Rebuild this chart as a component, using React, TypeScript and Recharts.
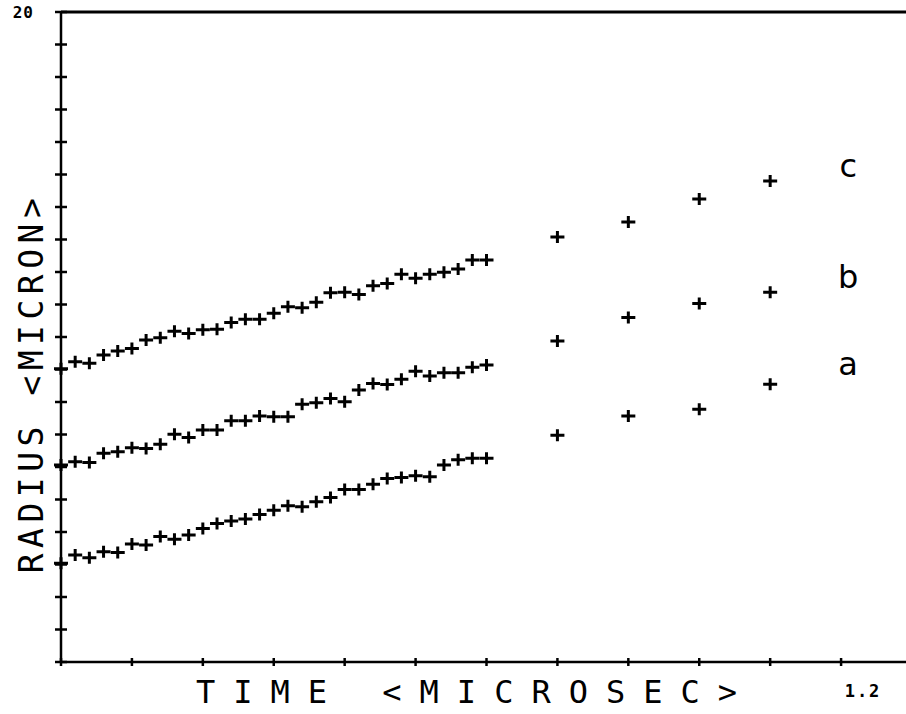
import React from 'react';
import { ComposedChart, Scatter, XAxis, YAxis } from 'recharts';

// time (microsec)
const timeValues = [
  0, 0.02, 0.04, 0.06, 0.08, 0.1, 0.12, 0.14, 0.16, 0.18, 0.2, 0.22, 0.24, 0.26, 0.28, 0.3,
  0.32, 0.34, 0.36, 0.38, 0.4, 0.42, 0.44, 0.46, 0.48, 0.5, 0.52, 0.54, 0.56, 0.58, 0.6,
  0.7, 0.8, 0.9, 1.0,
];

// radius (micron)
const radiusA = [
  3.04, 3.29, 3.21, 3.39, 3.37, 3.63, 3.6, 3.86, 3.78, 3.91, 4.11, 4.26, 4.34, 4.4, 4.54, 4.67,
  4.81, 4.78, 4.93, 5.06, 5.31, 5.31, 5.47, 5.65, 5.68, 5.73, 5.7, 6.06, 6.22, 6.27, 6.27,
  6.98, 7.57, 7.78, 8.55,
];
const radiusB = [
  6.06, 6.16, 6.14, 6.42, 6.47, 6.59, 6.57, 6.7, 7.01, 6.91, 7.14, 7.14, 7.42, 7.42, 7.57, 7.55,
  7.55, 7.93, 7.98, 8.11, 8.01, 8.37, 8.57, 8.54, 8.7, 8.95, 8.8, 8.9, 8.9, 9.07, 9.14,
  9.88, 10.6, 11.03, 11.38,
];
const radiusC = [
  9.02, 9.24, 9.19, 9.45, 9.57, 9.65, 9.91, 9.98, 10.18, 10.11, 10.22, 10.24, 10.45, 10.55, 10.55, 10.73,
  10.93, 10.9, 11.07, 11.36, 11.38, 11.31, 11.58, 11.65, 11.93, 11.81, 11.93, 11.99, 12.09, 12.37, 12.37,
  13.08, 13.54, 14.25, 14.8,
];

// curve labels
const curveNames = ['a', 'b', 'c'];
const curveLabelTime = [1.11, 1.11, 1.11];
const curveLabelRadius = [9.1, 11.8, 15.2];

// ticks
const xTicks = [0, 0.1, 0.2, 0.3, 0.4, 0.5, 0.6, 0.7, 0.8, 0.9, 1.0, 1.1, 1.2];
const yTicks = [0, 1, 2, 3, 4, 5, 6, 7, 8, 9, 10, 11, 12, 13, 14, 15, 16, 17, 18, 19, 20];
const xTickLabels: Record<string, string> = { '1.2': '1.2' };
const yTickLabels: Record<string, string> = { '20': '20' };

const xTitle = 'TIME <MICROSEC>';
const yTitle = 'RADIUS <MICRON>';

const toSeries = (rs: number[]) => timeValues.map((t, i) => ({ t, r: rs[i] }));
const dataA = toSeries(radiusA);
const dataB = toSeries(radiusB);
const dataC = toSeries(radiusC);
const labelData = curveNames.map((n, i) => ({ t: curveLabelTime[i], r: curveLabelRadius[i], name: n }));

const INK = '#000';
const MONO = '"DejaVu Sans Mono", "Liberation Mono", monospace';

const Cross = (props: any) => {
  const { cx, cy } = props;
  if (cx == null || cy == null) return null;
  return (
    <path
      d={`M${cx - 7},${cy}H${cx + 7}M${cx},${cy - 6}V${cy + 6}`}
      stroke={INK}
      strokeWidth={3}
      fill="none"
    />
  );
};

const LetterShape = (props: any) => {
  const { cx, cy, payload } = props;
  return (
    <text
      x={cx}
      y={cy}
      textAnchor="middle"
      dominantBaseline="middle"
      fontFamily='"DejaVu Sans", sans-serif'
      fontSize={32}
      fill={INK}
    >
      {payload.name}
    </text>
  );
};

const BottomTick = (props: any) => {
  const { x, y, payload } = props;
  const lbl = xTickLabels[String(payload.value)];
  return (
    <g>
      <line x1={x} x2={x} y1={y - 4} y2={y + 4} stroke={INK} strokeWidth={2.5} />
      {lbl ? (
        <text x={x - 49} y={y + 35} textAnchor="middle" fontFamily={MONO} fontWeight="bold" fontSize={17} letterSpacing={2} fill={INK}>
          {lbl}
        </text>
      ) : null}
    </g>
  );
};

const TopTick = (props: any) => {
  const { x, y } = props;
  return <line x1={x} x2={x} y1={y} y2={y + 5} stroke={INK} strokeWidth={2} />;
};

const LeftTick = (props: any) => {
  const { x, y, payload } = props;
  const lbl = yTickLabels[String(payload.value)];
  return (
    <g>
      <line x1={x - 6} x2={x + 6} y1={y} y2={y} stroke={INK} strokeWidth={2.5} />
      {lbl ? (
        <text x={x - 27} y={y + 6} textAnchor="end" fontFamily={MONO} fontWeight="bold" fontSize={16} letterSpacing={1} fill={INK}>
          {lbl}
        </text>
      ) : null}
    </g>
  );
};

const RightTick = (props: any) => {
  const { x, y } = props;
  return <line x1={x - 8} x2={x} y1={y} y2={y} stroke={INK} strokeWidth={2} />;
};

export default function App() {
  return (
    <div style={{ position: 'absolute', left: 0, top: 0, width: 906, height: 714, overflow: 'hidden', background: '#fff' }}>
      <ComposedChart width={913} height={714} margin={{ top: 11, right: 0, bottom: 51, left: 60 }}>
        <XAxis
          xAxisId="bottom"
          orientation="bottom"
          type="number"
          dataKey="t"
          domain={[0, 1.2]}
          ticks={xTicks}
          height={1}
          tickSize={0}
          tickMargin={0}
          tickLine={false}
          axisLine={{ stroke: INK, strokeWidth: 2.5 }}
          tick={<BottomTick />}
          interval={0}
        />
        <XAxis
          xAxisId="top"
          orientation="top"
          type="number"
          dataKey="t"
          domain={[0, 1.2]}
          ticks={xTicks}
          height={1}
          tickSize={0}
          tickMargin={0}
          tickLine={false}
          axisLine={{ stroke: INK, strokeWidth: 3 }}
          tick={<TopTick />}
          interval={0}
        />
        <YAxis
          yAxisId="left"
          orientation="left"
          type="number"
          dataKey="r"
          domain={[0, 20]}
          ticks={yTicks}
          width={1}
          tickSize={0}
          tickMargin={0}
          tickLine={false}
          axisLine={{ stroke: INK, strokeWidth: 2.5 }}
          tick={<LeftTick />}
          interval={0}
        />
        <YAxis
          yAxisId="right"
          orientation="right"
          type="number"
          dataKey="r"
          domain={[0, 20]}
          ticks={yTicks}
          width={1}
          tickSize={0}
          tickMargin={0}
          tickLine={false}
          axisLine={{ stroke: INK, strokeWidth: 2 }}
          tick={<RightTick />}
          interval={0}
        />
        <Scatter xAxisId="bottom" yAxisId="left" data={dataA} shape={<Cross />} isAnimationActive={false} />
        <Scatter xAxisId="bottom" yAxisId="left" data={dataB} shape={<Cross />} isAnimationActive={false} />
        <Scatter xAxisId="bottom" yAxisId="left" data={dataC} shape={<Cross />} isAnimationActive={false} />
        <Scatter xAxisId="bottom" yAxisId="left" data={labelData} shape={<LetterShape />} isAnimationActive={false} />
        <text x={196} y={703} fontFamily={MONO} fontSize={32} letterSpacing={18} fill={INK}>
          {xTitle}
        </text>
        <text
          x={43}
          y={383}
          transform="rotate(-90, 43, 383)"
          textAnchor="middle"
          fontFamily={MONO}
          fontSize={33}
          letterSpacing={5.5}
          fill={INK}
        >
          {yTitle}
        </text>
      </ComposedChart>
    </div>
  );
}
